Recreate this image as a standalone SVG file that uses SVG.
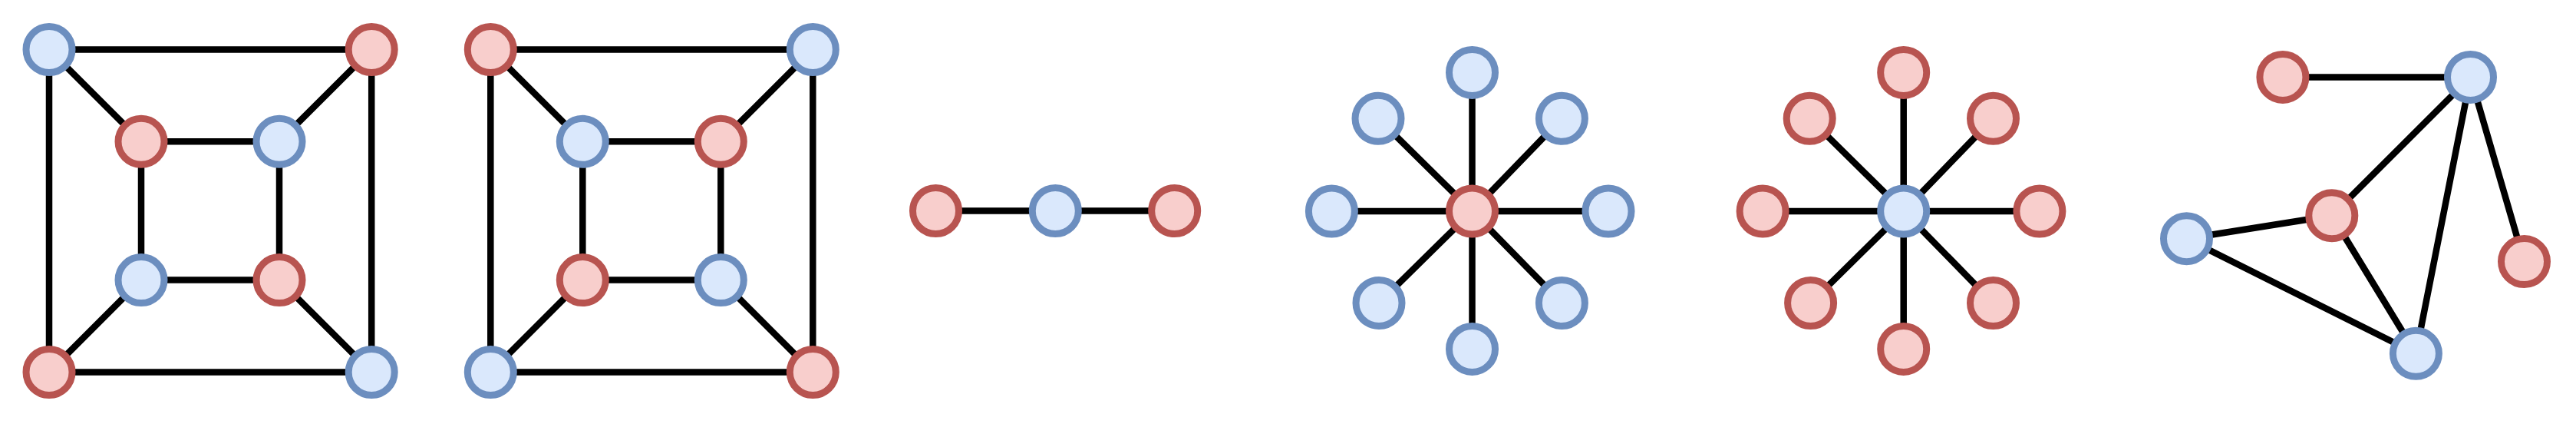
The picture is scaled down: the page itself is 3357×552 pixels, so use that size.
<svg xmlns="http://www.w3.org/2000/svg" width="3357" height="552" viewBox="0 0 3357 552">
<style>
.e{stroke:#000;stroke-width:8.5;fill:none}
.b{fill:#dae8fc;stroke:#6c8ebf;stroke-width:9}
.r{fill:#f8cecc;stroke:#b85450;stroke-width:9}
</style>
<rect width="3357" height="552" fill="#fff"/>
<g id="connectors">
<!-- graph 1 -->
<path class="e" d="M64,64.5H484.2V484.5H64Z"/>
<path class="e" d="M184,184.3H364V364.6H184Z"/>
<path class="e" d="M64,64.5L184,184.3M484.2,64.5L364,184.3M64,484.5L184,364.6M484.2,484.5L364,364.6"/>
<!-- graph 2 -->
<path class="e" d="M639.3,64.5H1059.3V484.5H639.3Z"/>
<path class="e" d="M759.3,184.3H939.3V364.6H759.3Z"/>
<path class="e" d="M639.3,64.5L759.3,184.3M1059.3,64.5L939.3,184.3M639.3,484.5L759.3,364.6M1059.3,484.5L939.3,364.6"/>
<!-- path graph -->
<path class="e" d="M1219.5,274.5H1530.7"/>
<!-- star 1 -->
<path class="e" d="M1918.5,275L1918.5,94.4M1918.5,275L1918.5,454.4M1918.5,275L1735.4,275M1918.5,275L2096,275M1918.5,275L1796,154.3M1918.5,275L2035.4,154.3M1918.5,275L1797,394.5M1918.5,275L2035.4,394.5"/>
<!-- star 2 -->
<path class="e" d="M2480.7,275L2480.7,94.4M2480.7,275L2480.7,454.4M2480.7,275L2297.1,275M2480.7,275L2657.9,275M2480.7,275L2358.2,154.3M2480.7,275L2597.5,154.3M2480.7,275L2359.6,394.5M2480.7,275L2597.5,394.5"/>
<!-- last graph -->
<path class="e" d="M2974.9,100.4L3219.5,100.4M3219.5,100.4L3038.8,280.7M3219.5,100.4L3148.4,460.3M3219.5,100.4L3289.5,340.6M3038.8,280.7L2849.5,310.7M3038.8,280.7L3148.4,460.3M2849.5,310.7L3148.4,460.3"/>
</g>
<g id="g1n1"><circle class="b" cx="64" cy="64.5" r="30"/></g>
<g id="g1n2"><circle class="r" cx="484.2" cy="64.5" r="30"/></g>
<g id="g1n3"><circle class="r" cx="64" cy="484.5" r="30"/></g>
<g id="g1n4"><circle class="b" cx="484.2" cy="484.5" r="30"/></g>
<g id="g1n5"><circle class="r" cx="184" cy="184.3" r="30"/></g>
<g id="g1n6"><circle class="b" cx="364" cy="184.3" r="30"/></g>
<g id="g1n7"><circle class="b" cx="184" cy="364.6" r="30"/></g>
<g id="g1n8"><circle class="r" cx="364" cy="364.6" r="30"/></g>
<g id="g2n1"><circle class="r" cx="639.3" cy="64.5" r="30"/></g>
<g id="g2n2"><circle class="b" cx="1059.3" cy="64.5" r="30"/></g>
<g id="g2n3"><circle class="b" cx="639.3" cy="484.5" r="30"/></g>
<g id="g2n4"><circle class="r" cx="1059.3" cy="484.5" r="30"/></g>
<g id="g2n5"><circle class="b" cx="759.3" cy="184.3" r="30"/></g>
<g id="g2n6"><circle class="r" cx="939.3" cy="184.3" r="30"/></g>
<g id="g2n7"><circle class="r" cx="759.3" cy="364.6" r="30"/></g>
<g id="g2n8"><circle class="b" cx="939.3" cy="364.6" r="30"/></g>
<g id="g3n1"><circle class="r" cx="1219.5" cy="274.5" r="30"/></g>
<g id="g3n2"><circle class="b" cx="1375.3" cy="274.5" r="30"/></g>
<g id="g3n3"><circle class="r" cx="1530.7" cy="274.5" r="30"/></g>
<g id="g4c"><circle class="r" cx="1918.5" cy="275" r="30"/></g>
<g id="g4n1"><circle class="b" cx="1918.5" cy="94.4" r="30"/></g>
<g id="g4n2"><circle class="b" cx="1918.5" cy="454.4" r="30"/></g>
<g id="g4n3"><circle class="b" cx="1735.4" cy="275" r="30"/></g>
<g id="g4n4"><circle class="b" cx="2096" cy="275" r="30"/></g>
<g id="g4n5"><circle class="b" cx="1796" cy="154.3" r="30"/></g>
<g id="g4n6"><circle class="b" cx="2035.4" cy="154.3" r="30"/></g>
<g id="g4n7"><circle class="b" cx="1797" cy="394.5" r="30"/></g>
<g id="g4n8"><circle class="b" cx="2035.4" cy="394.5" r="30"/></g>
<g id="g5c"><circle class="b" cx="2480.7" cy="275" r="30"/></g>
<g id="g5n1"><circle class="r" cx="2480.7" cy="94.4" r="30"/></g>
<g id="g5n2"><circle class="r" cx="2480.7" cy="454.4" r="30"/></g>
<g id="g5n3"><circle class="r" cx="2297.1" cy="275" r="30"/></g>
<g id="g5n4"><circle class="r" cx="2657.9" cy="275" r="30"/></g>
<g id="g5n5"><circle class="r" cx="2358.2" cy="154.3" r="30"/></g>
<g id="g5n6"><circle class="r" cx="2597.5" cy="154.3" r="30"/></g>
<g id="g5n7"><circle class="r" cx="2359.6" cy="394.5" r="30"/></g>
<g id="g5n8"><circle class="r" cx="2597.5" cy="394.5" r="30"/></g>
<g id="g6n1"><circle class="r" cx="2974.9" cy="100.4" r="30"/></g>
<g id="g6n2"><circle class="b" cx="3219.5" cy="100.4" r="30"/></g>
<g id="g6n3"><circle class="r" cx="3038.8" cy="280.7" r="30"/></g>
<g id="g6n4"><circle class="b" cx="2849.5" cy="310.7" r="30"/></g>
<g id="g6n5"><circle class="r" cx="3289.5" cy="340.6" r="30"/></g>
<g id="g6n6"><circle class="b" cx="3148.4" cy="460.3" r="30"/></g>
</svg>
